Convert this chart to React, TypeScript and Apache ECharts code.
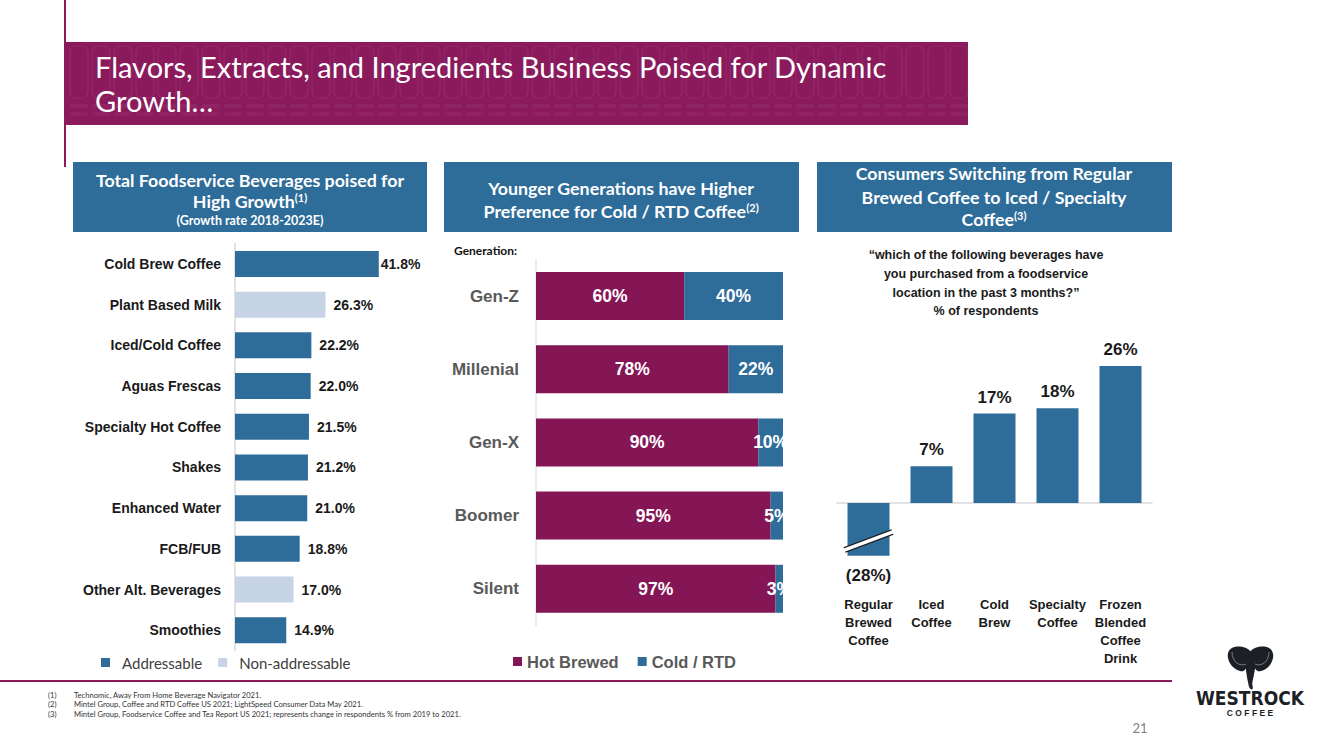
import React, { useEffect, useRef } from "react";
import * as echarts from "echarts";

// ---------- data ----------
const growthCategories = [
  "Cold Brew Coffee",
  "Plant Based Milk",
  "Iced/Cold Coffee",
  "Aguas Frescas",
  "Specialty Hot Coffee",
  "Shakes",
  "Enhanced Water",
  "FCB/FUB",
  "Other Alt. Beverages",
  "Smoothies",
];
const growthValues = [41.8, 26.3, 22.2, 22.0, 21.5, 21.2, 21.0, 18.8, 17.0, 14.9];
const growthAddressable = [true, false, true, true, true, true, true, true, false, true];

const generations = ["Gen-Z", "Millenial", "Gen-X", "Boomer", "Silent"];
const hotBrewed = [60, 78, 90, 95, 97];
const coldRtd = [40, 22, 10, 5, 3];

const switchCategories = [
  "Regular\nBrewed\nCoffee",
  "Iced\nCoffee",
  "Cold\nBrew",
  "Specialty\nCoffee",
  "Frozen\nBlended\nCoffee\nDrink",
];
const switchChange = [-28, 7, 17, 18, 26];

const footnotes = [
  ["(1)", "Technomic, Away From Home Beverage Navigator 2021."],
  ["(2)", "Mintel Group, Coffee and RTD Coffee US 2021; LightSpeed Consumer Data May 2021."],
  ["(3)", "Mintel Group, Foodservice Coffee and Tea Report US 2021; represents change in respondents % from 2019 to 2021."],
];

// ---------- styles ----------
const BLUE = "#2e6c99";
const LIGHT = "#c6d4e6";
const PURPLE = "#8a1a5c";
const HOT = "#851656";
const ARIAL = "'Liberation Sans', Arial, sans-serif";
const HUM = "Lato, 'Open Sans', sans-serif";

const ELEPHANT =
  "M50 14 C44 6, 30 2, 18 4 C6 6, 0 16, 2 28 C4 42, 14 54, 28 58 C34 60, 38 56, 40 52 C41 62, 43 74, 45 84 C46 92, 48 98, 52 99 C55 99, 56 94, 54 90 C53 86, 55 78, 57 68 C58 62, 59 56, 60 52 C62 56, 66 60, 72 58 C86 54, 96 42, 98 28 C100 16, 94 6, 82 4 C70 2, 56 6, 50 14 Z";

let registered = false;

function headerText(x: number, y: number, text: string, size: number, rich?: boolean) {
  return {
    type: "text",
    x,
    y,
    silent: true,
    style: {
      text,
      fill: "#ffffff",
      fontFamily: HUM,
      fontWeight: "bold",
      fontSize: size,
      align: "center",
      verticalAlign: "middle",
      rich: rich
        ? {
            sup: {
              fontSize: 11,
              fontWeight: "bold",
              fontFamily: HUM,
              fill: "#ffffff",
              verticalAlign: "top",
              padding: [0, 0, 8, 0],
            },
          }
        : undefined,
    },
  };
}

function buildGraphics(): any[] {
  const els: any[] = [];
  // left vertical rule
  els.push({ type: "rect", shape: { x: 64, y: 0, width: 2, height: 167 }, style: { fill: PURPLE }, silent: true });
  // title banner
  els.push({ type: "rect", shape: { x: 66, y: 42, width: 902, height: 83 }, style: { fill: PURPLE }, silent: true });
  for (let i = 0; i < 41; i++) {
    els.push({
      type: "rect",
      shape: { x: 70 + i * 22, y: 46, width: 18, height: 52, r: 6 },
      style: { fill: "none", stroke: "rgba(255,255,255,0.07)", lineWidth: 1.2 },
      silent: true,
    });
    els.push({
      type: "rect",
      shape: { x: 70 + i * 22, y: 104, width: 18, height: 4, r: 2 },
      style: { fill: "rgba(255,255,255,0.05)" },
      silent: true,
    });
    els.push({
      type: "rect",
      shape: { x: 70 + i * 22, y: 112, width: 18, height: 4, r: 2 },
      style: { fill: "rgba(255,255,255,0.04)" },
      silent: true,
    });
  }
  els.push({
    type: "text",
    x: 95,
    y: 66,
    silent: true,
    style: { text: "Flavors, Extracts, and Ingredients Business Poised for Dynamic", fill: "#fff", fontFamily: HUM, fontSize: 29, verticalAlign: "middle" },
  });
  els.push({
    type: "text",
    x: 95,
    y: 100,
    silent: true,
    style: { text: "Growth…", fill: "#fff", fontFamily: HUM, fontSize: 29, verticalAlign: "middle" },
  });

  // header boxes
  els.push({ type: "rect", shape: { x: 73, y: 162, width: 354, height: 70 }, style: { fill: BLUE }, silent: true });
  els.push({ type: "rect", shape: { x: 444, y: 162, width: 355, height: 70 }, style: { fill: BLUE }, silent: true });
  els.push({ type: "rect", shape: { x: 817, y: 162, width: 355, height: 70 }, style: { fill: BLUE }, silent: true });

  els.push(headerText(250, 180, "Total Foodservice Beverages poised for", 17.8));
  els.push(headerText(250, 201, "High Growth{sup|(1)}", 17.8, true));
  els.push(headerText(250, 220, "(Growth rate 2018-2023E)", 12.5));

  els.push(headerText(621, 188, "Younger Generations have Higher", 17.8));
  els.push(headerText(621, 211, "Preference for Cold / RTD Coffee{sup|(2)}", 17.8, true));

  els.push(headerText(994, 173, "Consumers Switching from Regular", 17.8));
  els.push(headerText(994, 197, "Brewed Coffee to Iced / Specialty", 17.8));
  els.push(headerText(994, 219, "Coffee{sup|(3)}", 17.8, true));

  // Generation label
  els.push({
    type: "text",
    x: 454,
    y: 250,
    silent: true,
    style: { text: "Generation:", fill: "#111", fontFamily: HUM, fontWeight: "bold", fontSize: 12, verticalAlign: "middle" },
  });

  // survey question
  const q = [
    "“which of the following beverages have",
    "you purchased from a foodservice",
    "location in the past 3 months?”",
    "% of respondents",
  ];
  const qy = [255, 274, 293, 311];
  q.forEach((t, i) =>
    els.push({
      type: "text",
      x: 986,
      y: qy[i],
      silent: true,
      style: { text: t, fill: "#1a1a1a", fontFamily: ARIAL, fontWeight: "bold", fontSize: 12.5, align: "center", verticalAlign: "middle" },
    })
  );

  // bottom rule
  els.push({ type: "rect", shape: { x: 0, y: 680, width: 1172, height: 2 }, style: { fill: PURPLE }, silent: true });

  // footnotes
  footnotes.forEach((f, i) => {
    const y = 694.5 + i * 9.8;
    els.push({ type: "text", x: 48, y, silent: true, style: { text: f[0], fill: "#333", fontFamily: HUM, fontSize: 7.6, verticalAlign: "middle" } });
    els.push({ type: "text", x: 74, y, silent: true, style: { text: f[1], fill: "#333", fontFamily: HUM, fontSize: 7.6, verticalAlign: "middle" } });
  });

  // page number
  els.push({ type: "text", x: 1140, y: 728, silent: true, style: { text: "21", fill: "#7f7f7f", fontFamily: HUM, fontSize: 13, align: "center", verticalAlign: "middle" } });

  // logo
  els.push({ type: "elephantLogo", x: 1227, y: 645, scaleX: 0.47, scaleY: 0.45, silent: true, style: { fill: "#1c1f26" } });
  els.push({
    type: "bezierCurve",
    silent: true,
    shape: { x1: 1232, y1: 652, x2: 1246, y2: 664, cpx1: 1232, cpy1: 662, cpx2: 1240, cpy2: 667 },
    style: { stroke: "rgba(255,255,255,0.5)", lineWidth: 0.8, fill: "none" },
  });
  els.push({
    type: "bezierCurve",
    silent: true,
    shape: { x1: 1269, y1: 652, x2: 1255, y2: 664, cpx1: 1269, cpy1: 662, cpx2: 1261, cpy2: 667 },
    style: { stroke: "rgba(255,255,255,0.5)", lineWidth: 0.8, fill: "none" },
  });
  els.push({
    type: "text",
    x: 1250,
    y: 698,
    silent: true,
    style: { text: "WESTROCK", fill: "#1c1f26", fontFamily: "'DejaVu Sans Condensed', 'DejaVu Sans', sans-serif", fontWeight: "bold", fontSize: 19, align: "center", verticalAlign: "middle" },
  });
  els.push({
    type: "text",
    x: 1250,
    y: 713,
    silent: true,
    style: { text: "C O F F E E", fill: "#1c1f26", fontFamily: ARIAL, fontWeight: "bold", fontSize: 8.5, align: "center", verticalAlign: "middle" },
  });
  return els;
}

export default function App() {
  const ref = useRef<HTMLDivElement>(null);

  useEffect(() => {
    if (!ref.current) return;
    if (!registered) {
      echarts.graphic.registerShape("elephantLogo", echarts.graphic.extendPath(ELEPHANT, {}) as any);
      registered = true;
    }
    const chart = echarts.init(ref.current, undefined, { renderer: "svg" });

    const growthLabel = (p: any) => `${Number(p.value).toFixed(1)}%`;
    const growthData = (keep: boolean) =>
      growthValues.map((v, i) => {
        if (growthAddressable[i] !== keep) return "-";
        return i === 0 ? { value: v, label: { distance: 2 } } : v;
      });

    const option: any = {
      animation: false,
      backgroundColor: "#ffffff",
      grid: [
        { left: 235, top: 243.6, width: 172, height: 407, containLabel: false },
        { left: 536, top: 259.4, width: 247, height: 366, containLabel: false },
        { left: 837, top: 345, width: 315, height: 210.8, containLabel: false },
      ],
      xAxis: [
        { gridIndex: 0, type: "value", min: 0, max: 50, show: false },
        { gridIndex: 1, type: "value", min: 0, max: 100, show: false },
        {
          gridIndex: 2,
          type: "category",
          data: switchCategories,
          axisLine: { onZero: true, lineStyle: { color: "#d9d9d9", width: 1.5 } },
          axisTick: { show: false },
          axisLabel: {
            interval: 0,
            margin: 40,
            fontFamily: ARIAL,
            fontWeight: "bold",
            fontSize: 13,
            lineHeight: 18,
            color: "#1a1a1a",
            verticalAlign: "top",
          },
        },
      ],
      yAxis: [
        {
          gridIndex: 0,
          type: "category",
          inverse: true,
          data: growthCategories,
          axisLine: { show: true, lineStyle: { color: "#d9d9d9", width: 1.5 } },
          axisTick: { show: false },
          axisLabel: { margin: 14, fontFamily: ARIAL, fontWeight: "bold", fontSize: 14, color: "#1a1a1a" },
        },
        {
          gridIndex: 1,
          type: "category",
          inverse: true,
          data: generations,
          axisLine: { show: true, lineStyle: { color: "#e3e3e3", width: 1.5 } },
          axisTick: { show: false },
          axisLabel: { margin: 17, fontFamily: ARIAL, fontWeight: "bold", fontSize: 17, color: "#595959" },
        },
        { gridIndex: 2, type: "value", min: -10, max: 30, show: false, splitLine: { show: false } },
      ],
      legend: [
        {
          data: ["Addressable", "Non-addressable"],
          left: 96,
          top: 650,
          itemWidth: 9,
          itemHeight: 9,
          itemGap: 16,
          icon: "rect",
          selectedMode: false,
          textStyle: { fontFamily: HUM, fontSize: 15, color: "#404040", padding: [0, 0, 0, 7] },
        },
        {
          data: ["Hot Brewed", "Cold / RTD"],
          left: 508,
          top: 648,
          itemWidth: 9,
          itemHeight: 9,
          itemGap: 19,
          icon: "rect",
          selectedMode: false,
          textStyle: { fontFamily: ARIAL, fontWeight: "bold", fontSize: 16.5, color: "#595959" },
        },
      ],
      series: [
        {
          name: "Addressable",
          type: "bar",
          xAxisIndex: 0,
          yAxisIndex: 0,
          barWidth: 26,
          barGap: "-100%",
          data: growthData(true),
          itemStyle: { color: BLUE },
          label: { show: true, position: "right", distance: 8, formatter: growthLabel, fontFamily: ARIAL, fontWeight: "bold", fontSize: 14, color: "#1a1a1a" },
        },
        {
          name: "Non-addressable",
          type: "bar",
          xAxisIndex: 0,
          yAxisIndex: 0,
          barWidth: 26,
          barGap: "-100%",
          data: growthData(false),
          itemStyle: { color: LIGHT },
          label: { show: true, position: "right", distance: 8, formatter: growthLabel, fontFamily: ARIAL, fontWeight: "bold", fontSize: 14, color: "#1a1a1a" },
        },
        {
          name: "Hot Brewed",
          type: "bar",
          xAxisIndex: 1,
          yAxisIndex: 1,
          stack: "gen",
          barWidth: 48,
          data: hotBrewed,
          itemStyle: { color: HOT },
          label: { show: true, position: "inside", formatter: "{c}%", fontFamily: ARIAL, fontWeight: "bold", fontSize: 17.5, color: "#ffffff" },
        },
        {
          name: "Cold / RTD",
          type: "bar",
          xAxisIndex: 1,
          yAxisIndex: 1,
          stack: "gen",
          barWidth: 48,
          data: coldRtd,
          itemStyle: { color: BLUE },
          label: { show: true, position: "inside", formatter: "{c}%", fontFamily: ARIAL, fontWeight: "bold", fontSize: 17.5, color: "#ffffff" },
        },
        {
          name: "Change",
          type: "bar",
          xAxisIndex: 2,
          yAxisIndex: 2,
          barWidth: 42,
          clip: true,
          data: switchChange.map((v) => (v < 0 ? { value: v, label: { position: "bottom", distance: 11 } } : v)),
          itemStyle: { color: BLUE },
          label: {
            show: true,
            position: "top",
            distance: 8,
            formatter: (p: any) => (p.value < 0 ? `(${-p.value}%)` : `${p.value}%`),
            fontFamily: ARIAL,
            fontWeight: "bold",
            fontSize: 17,
            color: "#1a1a1a",
          },
        },
      ],
      graphic: { elements: buildGraphics() },
    };

    chart.setOption(option);

    // axis-break slash on the truncated negative bar
    const els = buildGraphics();
    const c = chart.convertToPixel({ xAxisIndex: 2, yAxisIndex: 2 } as any, [0, -7.2]) as number[];
    if (c && isFinite(c[0]) && isFinite(c[1])) {
      const [cx, cy] = c;
      els.push({
        type: "line",
        silent: true,
        z: 50,
        shape: { x1: cx - 24, y1: cy + 9, x2: cx + 24, y2: cy - 9 },
        style: { stroke: "#1a1a1a", lineWidth: 6 },
      });
      els.push({
        type: "line",
        silent: true,
        z: 51,
        shape: { x1: cx - 25, y1: cy + 9.4, x2: cx + 25, y2: cy - 9.4 },
        style: { stroke: "#ffffff", lineWidth: 3.5 },
      });
      chart.setOption({ graphic: { elements: els } });
    }

    return () => chart.dispose();
  }, []);

  return (
    <div
      ref={ref}
      style={{ position: "absolute", left: 0, top: 0, width: 1333, height: 750, background: "#ffffff" }}
    />
  );
}
